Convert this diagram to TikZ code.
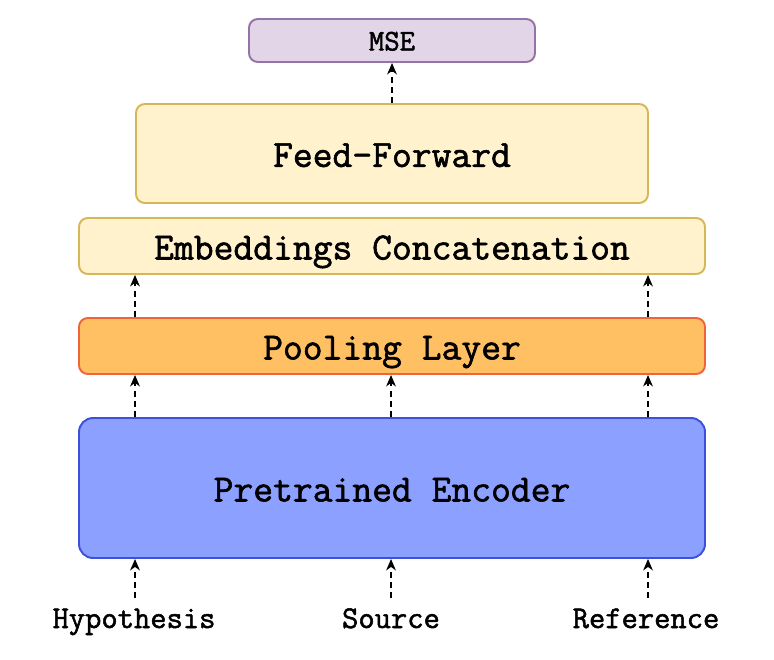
\documentclass[tikz,border=0pt]{standalone}
\usepackage{fontspec}
\setmonofont[FakeBold=1.6]{Latin Modern Mono}
\usepackage{tikz}
\usetikzlibrary{positioning}
\usetikzlibrary{calc}
\usetikzlibrary{arrows.meta}

\definecolor{mseFill}{RGB}{225,213,231}
\definecolor{mseLine}{RGB}{150,115,166}
\definecolor{ffFill}{RGB}{255,242,204}
\definecolor{ffLine}{RGB}{214,182,86}
\definecolor{poolFill}{RGB}{255,192,100}
\definecolor{poolLine}{RGB}{240,100,60}
\definecolor{encFill}{RGB}{140,160,255}
\definecolor{encLine}{RGB}{60,80,220}

\begin{document}
\begin{tikzpicture}[
  box/.style={draw,line width=1.1pt,rounded corners=5pt,inner sep=2pt,text height=16pt,text depth=0.7pt,font=\ttfamily\fontsize{21.9}{24}\selectfont},
  lbl/.style={anchor=base,font=\ttfamily\fontsize{18}{20}\selectfont},
  flow/.style={-{Stealth[length=6.5pt,width=5.5pt,inset=2pt]},dash pattern=on 3.4pt off 2.4pt,line width=1.1pt}
]
\useasboundingbox (0,0) rectangle (15.48,-13.2);

\node[box,fill=mseFill,draw=mseLine,minimum width=5.72cm,minimum height=0.86cm,text height=12pt,font=\ttfamily\fontsize{17}{19}\selectfont](MSE) at (7.84,-0.81){MSE};
\node[box,fill=ffFill,draw=ffLine,minimum width=10.24cm,minimum height=1.98cm](FF) at (7.84,-3.07){Feed-Forward};
\node[box,fill=ffFill,draw=ffLine,minimum width=12.52cm,minimum height=1.12cm](Concat) at (7.84,-4.92){Embeddings Concatenation};
\node[box,fill=poolFill,draw=poolLine,minimum width=12.52cm,minimum height=1.12cm](Pool) at (7.84,-6.92){Pooling Layer};
\node[box,fill=encFill,draw=encLine,minimum width=12.52cm,minimum height=2.8cm,rounded corners=8pt](Enc) at (7.84,-9.76){Pretrained Encoder};
\node[lbl](Hyp) at (2.68,-12.56){Hypothesis};
\node[lbl](Src) at (7.82,-12.56){Source};
\node[lbl](Ref) at (12.92,-12.56){Reference};

\coordinate (startHyp) at (2.70,-11.96);
\coordinate (startSrc) at (7.82,-11.96);
\coordinate (startRef) at (12.96,-11.96);

\path
(startHyp) edge[flow] (startHyp |- Enc.south)
(startSrc) edge[flow] (startSrc |- Enc.south)
(startRef) edge[flow] (startRef |- Enc.south)
(startHyp |- Enc.north) edge[flow] (startHyp |- Pool.south)
(startSrc |- Enc.north) edge[flow] (startSrc |- Pool.south)
(startRef |- Enc.north) edge[flow] (startRef |- Pool.south)
(startHyp |- Pool.north) edge[flow] (startHyp |- Concat.south)
(startRef |- Pool.north) edge[flow] (startRef |- Concat.south)
(FF.north) edge[flow] (MSE.south);
\end{tikzpicture}
\end{document}
